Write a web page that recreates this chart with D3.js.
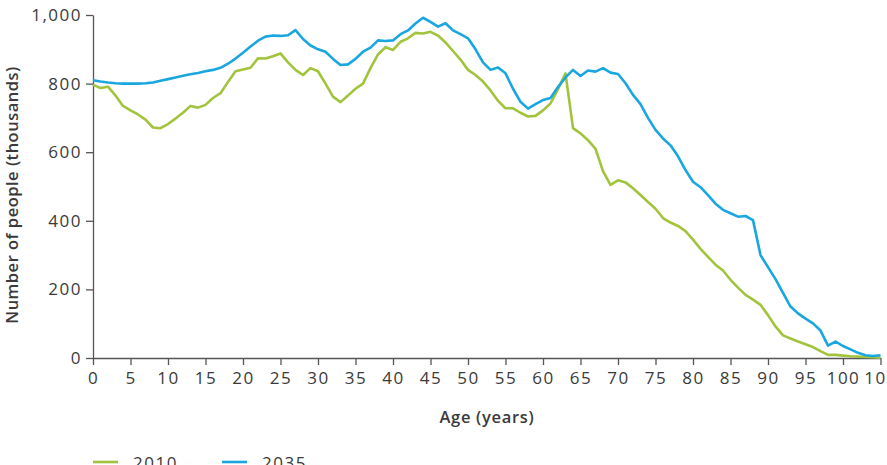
<!DOCTYPE html>
<html>
<head>
<meta charset="utf-8">
<script src="https://d3js.org/d3.v7.min.js"></script>
<style>
    body { margin: 0; background: #fff; }
    svg text { font-family: "Open Sans", "Noto Sans", sans-serif; fill: #3a3a3a; }
</style>
</head>
<body>
<div id="chartDiv"></div>
<script>
// population by single year of age, thousands
var ages = d3.range(0, 106);
var pop2010 = [
    797, 787, 791, 765, 735, 722, 710, 695, 672, 670,
    682, 698, 715, 735, 730, 738, 758, 772, 805, 836,
    841, 846, 874, 873, 880, 888, 862, 840, 825, 845,
    836, 800, 762, 746, 765, 785, 800, 845, 885, 906,
    898, 922, 932, 948, 946, 951, 940, 920, 895, 870,
    840, 825, 806, 780, 750, 728, 728, 715, 704, 706,
    722, 742, 784, 830, 670, 655, 635, 610, 545, 505,
    518, 512, 495, 475, 455, 435, 408, 395, 385, 370,
    345, 318, 295, 272, 255, 228, 205, 184, 170, 155,
    125, 92, 66, 57, 48, 40, 32, 20, 9, 9,
    7, 5, 4, 3, 2, 1
];
var pop2035 = [
    810, 806, 803, 801, 800, 800, 800, 801, 803, 808,
    813, 818, 823, 827, 831, 836, 840, 846, 858, 873,
    890, 908, 925, 937, 940, 939, 941, 956, 930, 911,
    900, 893, 872, 854, 856, 872, 893, 905, 926, 924,
    926, 944, 955, 975, 992, 980, 966, 976, 955, 944,
    932, 900, 862, 840, 847, 830, 785, 747, 727, 740,
    752, 758, 790, 818, 840, 822, 838, 835, 845, 832,
    828, 801, 767, 740, 700, 665, 640, 620, 588, 548,
    514, 498, 475, 450, 432, 422, 412, 414, 402, 300,
    265, 230, 190, 150, 130, 115, 101, 80, 36, 48,
    35, 25, 15, 8, 6, 8
];
var seriesNames = ["2010", "2035"];
var seriesColors = ["#a2c43c", "#1aa7df"];
var xTicks = d3.range(0, 106, 5);
var yTicks = [0, 200, 400, 600, 800, 1000];

var width = 887, height = 465;
var plotLeft = 93, plotRight = 880.5, plotTop = 15, plotBottom = 358;

var svg = d3.select("#chartDiv").append("svg")
    .attr("width", width)
    .attr("height", height);

var x = d3.scaleLinear().domain([0, 105]).range([plotLeft, plotRight]);
var y = d3.scaleLinear().domain([0, 1000]).range([plotBottom, plotTop]);

var xAxis = svg.append("g")
    .attr("transform", "translate(0," + plotBottom + ")")
    .call(d3.axisBottom(x).tickValues(xTicks).tickSize(7).tickPadding(7).tickSizeOuter(0));
var yAxis = svg.append("g")
    .attr("transform", "translate(" + plotLeft + ",0)")
    .call(d3.axisLeft(y).tickValues(yTicks).tickSize(7).tickPadding(4).tickSizeOuter(0)
        .tickFormat(d3.format(",")));

[xAxis, yAxis].forEach(function (ax) {
    ax.selectAll("path, line").attr("stroke", "#555").attr("stroke-width", 1.3);
    ax.selectAll("text")
        .style("font-size", "17px")
        .style("letter-spacing", "1.5px")
        .attr("fill", "#3a3a3a");
});

svg.append("text")
    .attr("x", 487)
    .attr("y", 423)
    .attr("text-anchor", "middle")
    .style("font-size", "16.5px")
    .style("font-weight", 600)
    .style("letter-spacing", "0.7px")
    .text("Age (years)");

svg.append("text")
    .attr("transform", "translate(18," + 195 + ") rotate(-90)")
    .attr("text-anchor", "middle")
    .style("font-size", "16.5px")
    .style("font-weight", 600)
    .style("letter-spacing", "0.5px")
    .text("Number of people (thousands)");

var line = d3.line()
    .x(function (d, i) { return x(ages[i]); })
    .y(function (d) { return y(d); });

[pop2010, pop2035].forEach(function (vals, k) {
    svg.append("path")
        .datum(vals)
        .attr("fill", "none")
        .attr("stroke", seriesColors[k])
        .attr("stroke-width", 2.6)
        .attr("stroke-linejoin", "round")
        .attr("d", line);
});

// legend, partly below the frame like the original
var legend = svg.append("g").attr("transform", "translate(93,462)");
seriesNames.forEach(function (name, k) {
    var g = legend.append("g").attr("transform", "translate(" + (k * 129) + ",0)");
    g.append("line")
        .attr("x1", 0).attr("x2", 25)
        .attr("stroke", seriesColors[k])
        .attr("stroke-width", 2.6);
    g.append("text")
        .attr("x", 40)
        .attr("y", 7)
        .style("font-size", "17px")
        .style("letter-spacing", "1.5px")
        .text(name);
});
</script>
</body>
</html>
